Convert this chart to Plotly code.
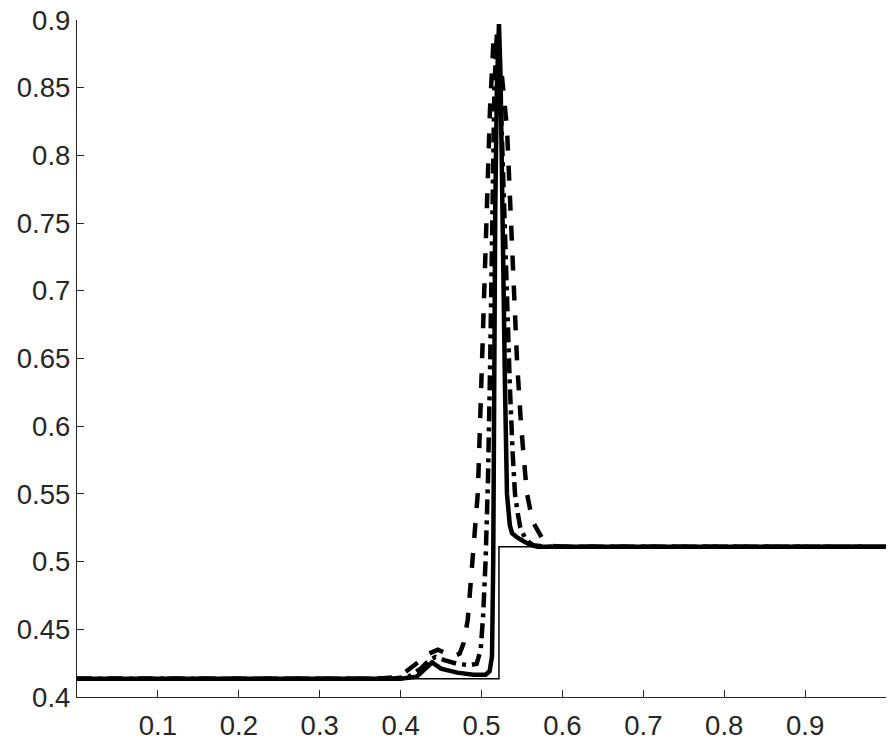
import plotly.graph_objects as go

# exact solution (thin step)
exact_x = [0.0, 0.5216, 0.5216, 1.0]
exact_y = [0.4135, 0.4135, 0.511, 0.511]

# solid thick curve
solid_x = [0.0, 0.40, 0.42, 0.43, 0.439, 0.45, 0.47, 0.49, 0.505, 0.510, 0.513, 0.5145, 0.5155,
           0.517, 0.519, 0.5205, 0.5216, 0.5235, 0.526, 0.529, 0.5315, 0.535, 0.5377, 0.541,
           0.545, 0.552, 0.56, 0.569, 0.60, 1.0]
solid_y = [0.4135, 0.4135, 0.415, 0.421, 0.4255, 0.421, 0.418, 0.4165, 0.4165, 0.419, 0.43, 0.50, 0.62,
           0.76, 0.85, 0.885, 0.897, 0.86, 0.74, 0.63, 0.55, 0.527, 0.521, 0.519,
           0.5175, 0.515, 0.5125, 0.511, 0.511, 0.511]

# dash-dot curve
dashdot_x = [0.0, 0.39, 0.41, 0.425, 0.435, 0.443, 0.455, 0.47, 0.485, 0.494, 0.499, 0.502, 0.505,
             0.507, 0.508, 0.5105, 0.513, 0.516, 0.519, 0.522, 0.526, 0.531, 0.535, 0.5385,
             0.5414, 0.545, 0.548, 0.555, 0.564, 0.58, 1.0]
dashdot_y = [0.4135, 0.4135, 0.415, 0.421, 0.427, 0.4296, 0.427, 0.4245, 0.4235, 0.4245, 0.435, 0.46, 0.50,
             0.53, 0.56, 0.64, 0.75, 0.85, 0.89, 0.87, 0.80, 0.70, 0.63, 0.58,
             0.55, 0.535, 0.525, 0.516, 0.512, 0.511, 0.511]

# dashed curve
dashed_x = [0.0, 0.37, 0.39, 0.405, 0.42, 0.435, 0.446, 0.455, 0.465, 0.473, 0.478, 0.483, 0.489,
            0.4955, 0.5006, 0.5045, 0.507, 0.5105, 0.515, 0.520, 0.525, 0.5315, 0.5377, 0.541,
            0.544, 0.549, 0.556, 0.563, 0.570, 0.578, 0.588, 0.60, 1.0]
dashed_y = [0.4135, 0.4135, 0.4145, 0.418, 0.425, 0.432, 0.435, 0.433, 0.43, 0.432, 0.44, 0.457, 0.506,
            0.551, 0.647, 0.72, 0.78, 0.834, 0.887, 0.875, 0.86, 0.82, 0.735, 0.70,
            0.647, 0.60, 0.551, 0.53, 0.522, 0.514, 0.5115, 0.511, 0.511]

x_ticks = [0.1, 0.2, 0.3, 0.4, 0.5, 0.6, 0.7, 0.8, 0.9]
y_ticks = [0.4, 0.45, 0.5, 0.55, 0.6, 0.65, 0.7, 0.75, 0.8, 0.85, 0.9]

ink = '#262626'

fig = go.Figure()
fig.add_trace(go.Scatter(x=exact_x, y=exact_y, mode='lines',
                         line=dict(color='black', width=1.5)))
fig.add_trace(go.Scatter(x=dashed_x, y=dashed_y, mode='lines',
                         line=dict(color='black', width=4.5, dash='15px,15px')))
fig.add_trace(go.Scatter(x=dashdot_x, y=dashdot_y, mode='lines',
                         line=dict(color='black', width=4.5, dash='15px,6px,4px,6px')))
fig.add_trace(go.Scatter(x=solid_x, y=solid_y, mode='lines',
                         line=dict(color='black', width=4.5)))

# page body has an 8px margin, so the figure is offset by that much
fig.update_layout(
    width=879, height=735,
    margin=dict(l=69, r=1, t=12, b=46),
    paper_bgcolor='white', plot_bgcolor='white',
    showlegend=False,
    font=dict(family='Liberation Sans, Arial, sans-serif', size=27.5, color=ink),
)
fig.update_xaxes(range=[0, 1], tickvals=x_ticks, ticktext=[str(v) for v in x_ticks],
                 showgrid=False, zeroline=False, showline=True, linecolor=ink, linewidth=1.3,
                 ticks='inside', ticklen=7, tickcolor=ink, tickwidth=1.3, mirror=False,
                 automargin=False, ticklabeloverflow='allow', ticklabelstandoff=4)
fig.update_yaxes(range=[0.4, 0.9], tickvals=y_ticks, ticktext=[f'{v:g}' for v in y_ticks],
                 showgrid=False, zeroline=False, showline=True, linecolor=ink, linewidth=1.3,
                 ticks='inside', ticklen=7, tickcolor=ink, tickwidth=1.3, mirror=False,
                 automargin=False, ticklabeloverflow='allow')

fig.write_html("out.html")
